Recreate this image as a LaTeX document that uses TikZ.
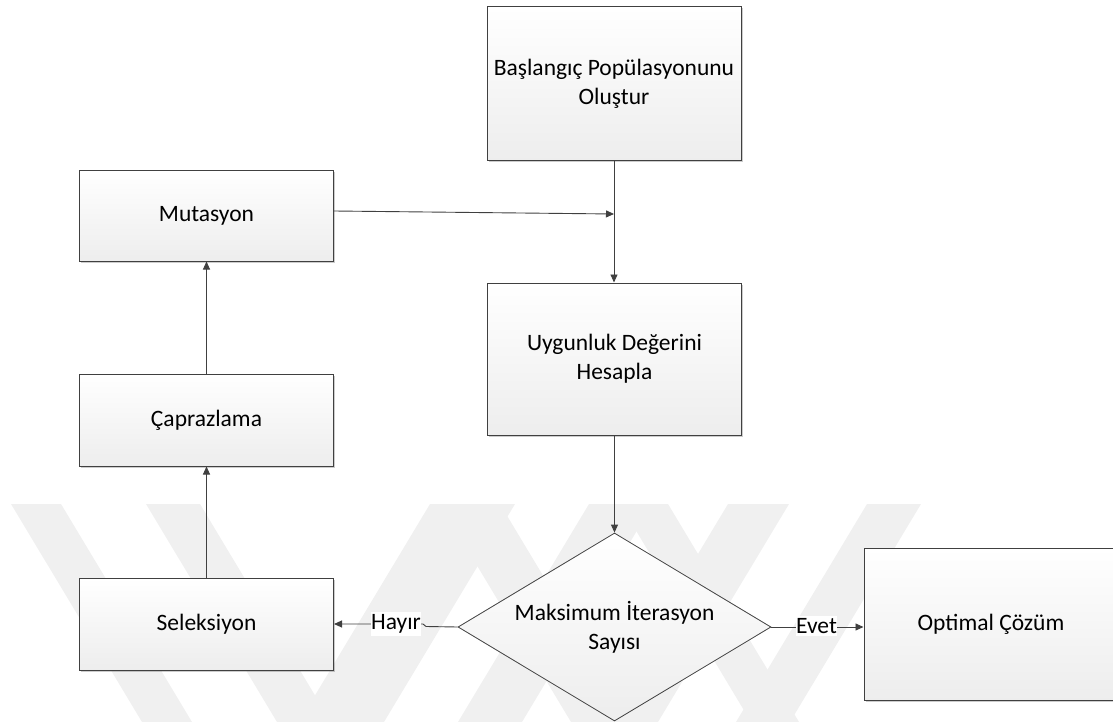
\documentclass[tikz,border=0pt]{standalone}
\usepackage{fontspec}
\setmainfont{Carlito}
\usetikzlibrary{shapes.geometric,arrows.meta,shadows}

\begin{document}
\begin{tikzpicture}[x=1pt,y=-1pt,
  every node/.style={font=\fontsize{23.5}{29}\selectfont, text=black},
  box/.style={draw=black!75, line width=1pt, top color=white, bottom color=black!7,
    minimum width=254pt, align=center, inner sep=0pt,
    drop shadow={shadow xshift=1.5pt, shadow yshift=-1.5pt, opacity=0.2, fill=black}},
  decision/.style={diamond, aspect=1.665, draw=black!75, line width=0.8pt,
    top color=white, bottom color=black!7, minimum width=313pt, minimum height=188pt,
    inner sep=0pt, align=center},
  conn/.style={draw=black!75, line width=0.9pt, -{Triangle[length=8pt,width=7pt]}},
  lbl/.style={fill=white, inner xsep=0.5pt, inner ysep=2.5pt},
  wm/.style={fill=black!6, draw=none}
]
\path[use as bounding box] (0,0) rectangle (1113,722);

% faint background emblem: slanted bands
\foreach \l/\r in {11/61, 146/200, 440/500, 620/668}
  \fill[wm] (\l,504) -- (\r,504) -- (\r+131,722) -- (\l+131,722) -- cycle;
\foreach \l/\r in {430/515, 589/653, 728/789, 867/921}
  \fill[wm] (\l,504) -- (\r,504) -- (\r-131,722) -- (\l-131,722) -- cycle;

% process steps
\node[box, minimum height=154pt] (start) at (614,84) {Başlangıç Popülasyonunu\\Oluştur};
\node[box, minimum height=152pt] (fit) at (614.5,359) {Uygunluk Değerini\\Hesapla};
\node[box, minimum height=90pt] (mut) at (206.5,216) {Mutasyon};
\node[box, minimum height=92pt] (cap) at (206.5,420) {Çaprazlama};
\node[box, minimum height=92pt] (sel) at (206.5,624) {Seleksiyon};
\node[decision] (dia) at (614.5,627) {Maksimum İterasyon\\Sayısı};
\node[box, minimum height=152pt] (opt) at (991,624) {Optimal Çözüm};

% connectors
\coordinate (join) at (614,214);
\coordinate (hk1) at (426,626.5);
\coordinate (hk2) at (423,624);
\draw[conn] (start.south) -- (start.south |- fit.north);
\draw[conn] ([yshift=5pt]mut.east) -- (join);
\draw[conn] (fit.south) -- (dia.north);
\draw[conn] (sel.north) -- (cap.south);
\draw[conn] (cap.north) -- (mut.south);
\draw[conn] (dia.west) -- (hk1) -- (hk2) -- (sel.east |- hk2);
\draw[conn] (dia.east) -- (dia.east -| opt.west);

% branch labels
\node[lbl] (no) at (396,624) {Hayır};
\node[lbl] (yes) at (816.5,626) {Evet};
\end{tikzpicture}
\end{document}
